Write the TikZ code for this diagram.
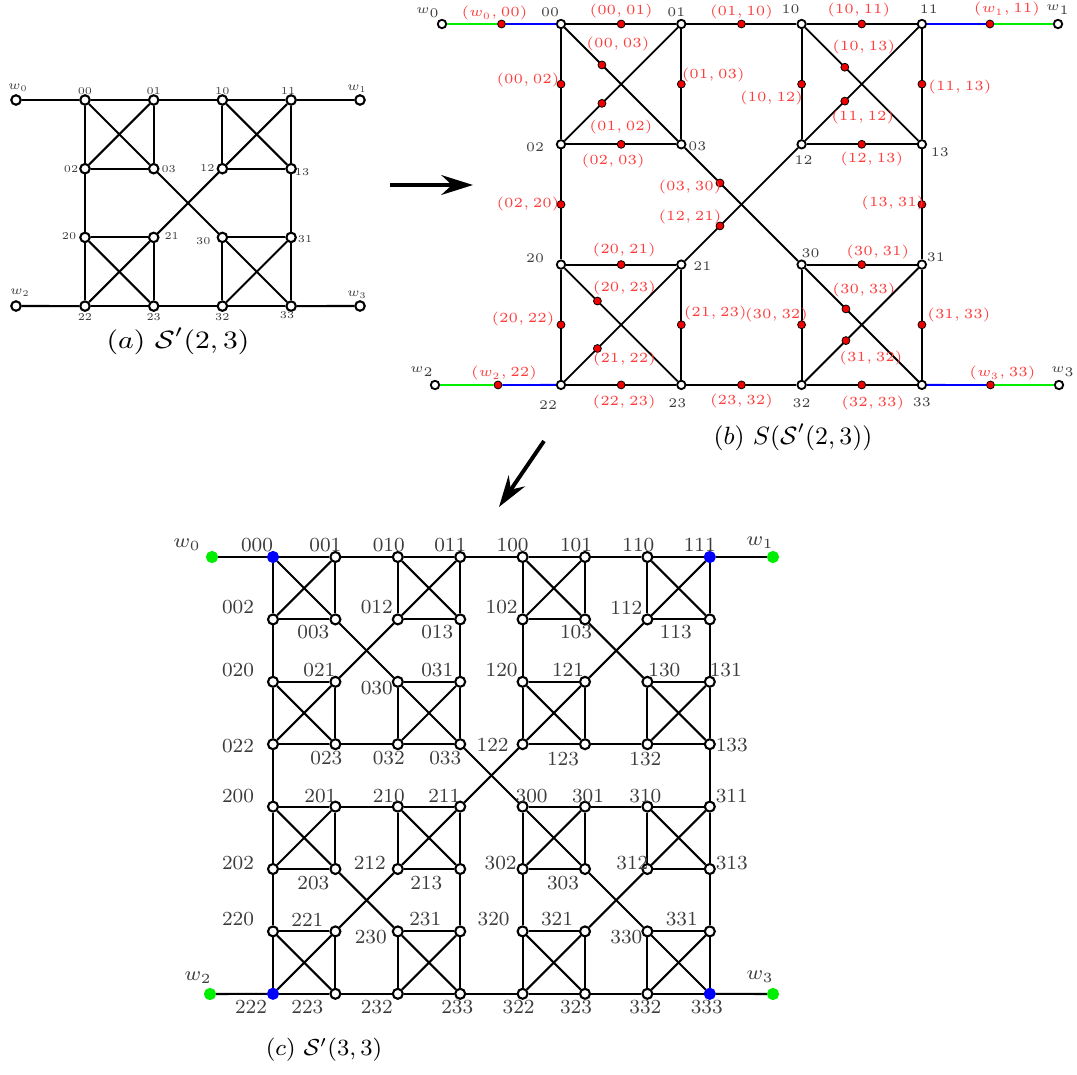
\RequirePackage{fix-cm}
\documentclass[tikz,border=0pt]{standalone}
\usepackage{amsmath,amssymb}
\usepackage{graphicx}
\usepackage{xcolor}
\usepackage{tikz}
\usetikzlibrary{calc,arrows.meta}
\definecolor{vblue}{HTML}{0000FF}
\definecolor{vgreen}{HTML}{00EE00}
\definecolor{dotred}{HTML}{F00000}
\definecolor{lblred}{HTML}{FF3B3B}
\definecolor{lblgray}{HTML}{3C3C3C}
\newcommand{\hstr}[2]{\scalebox{#1}[1]{#2}}
\tikzset{
  vtx/.style={circle,draw=black,fill=white,inner sep=0pt,line width=0.8pt},
  avtx/.style={vtx,minimum size=3.6pt},
  bvtx/.style={vtx,minimum size=3.2pt,line width=0.7pt},
  cvtx/.style={vtx,minimum size=3.8pt},
  endpt/.style={fill=vblue,draw=vblue},
  wpt/.style={fill=vgreen,draw=vgreen},
  rdot/.style={circle,fill=dotred,draw=black,line width=0.3pt,inner sep=0pt,minimum size=3pt},
  aedge/.style={line width=0.8pt},
  bedge/.style={line width=0.7pt},
  cedge/.style={line width=0.8pt},
  alab/.style={inner sep=0pt,text=lblgray,font=\fontsize{4}{5}\selectfont},
  blab/.style={inner sep=0pt,text=lblgray,font=\fontsize{5}{6}\selectfont},
  rlab/.style={inner sep=0pt,text=lblred,font=\fontsize{5.3}{6}\selectfont},
  clab/.style={inner sep=0pt,text=lblgray,font=\fontsize{7.6}{9}\selectfont},
  caption/.style={inner sep=0pt,font=\fontsize{9.5}{11}\selectfont},
  bigarrow/.style={line width=1.5pt,-{Stealth[length=12pt,width=7.5pt,inset=4pt]}}
}

\begin{document}
\begin{tikzpicture}[x=0.38pt,y=-0.38pt]
  \useasboundingbox (0,0) rectangle (1077,1075);

  % (a) S'(2,3)
  \foreach \i in {0,...,3} \foreach \j in {0,...,3} {
    \pgfmathsetmacro\cx{85+68.7*(2*mod(\i,2)+mod(\j,2))}
    \pgfmathsetmacro\cy{100+68.7*(2*int(\i/2)+int(\j/2))}
    \node[avtx] (a\i\j) at (\cx,\cy) {};
  }
  \node[avtx] (aw0) at (16,100) {};
  \node[avtx] (aw1) at (360,100) {};
  \node[avtx] (aw2) at (16,306) {};
  \node[avtx] (aw3) at (360,306) {};
  \foreach \i in {0,...,3}
    \foreach \p/\q in {0/1,0/2,0/3,1/2,1/3,2/3} \draw[aedge] (a\i\p) -- (a\i\q);
  \foreach \p/\q in {0/1,0/2,0/3,1/2,1/3,2/3} \draw[aedge] (a\p\q) -- (a\q\p);
  \foreach \k in {0,...,3} \draw[aedge] (aw\k) -- (a\k\k);
  \foreach \n/\dx/\dy in {00/0/-9,01/0/-9,10/0/-9,11/-3/-9,02/-14/0,03/15/0,12/-15/-1,13/11/3,
      20/-16/-1,21/18/-1,30/-19/4,31/14/2,22/0/11,23/0/11,32/0/11,33/-4/9}
    \node[alab] (la\n) at ($(a\n)+(\dx,\dy)$) {\n};
  \foreach \k/\dx/\dy in {0/2/-12,1/-3/-11,2/4/-13,3/-3/-11}
    \node[alab,font=\fontsize{4.8}{5}\selectfont] (law\k) at ($(aw\k)+(\dx,\dy)$) {$w_\k$};
  \node[caption] (capa) at (178,341) {\hstr{1.15}{$(a)$ $\mathcal{S}'(2,3)$}};

  % (b) S(S'(2,3))
  \foreach \i in {0,...,3} \foreach \j in {0,...,3} {
    \pgfmathsetmacro\cx{561+120.3*(2*mod(\i,2)+mod(\j,2))}
    \pgfmathsetmacro\cy{24+120.3*(2*int(\i/2)+int(\j/2))}
    \node[bvtx] (b\i\j) at (\cx,\cy) {};
  }
  \node[bvtx] (bw0) at (442,24) {};
  \node[bvtx] (bw1) at (1058,24) {};
  \node[bvtx] (bw2) at (435,385) {};
  \node[bvtx] (bw3) at (1059,385) {};
  \foreach \p/\q/\t/\dx/\dy in {00/01/0.5/0/-13,00/03/0.33/16/-21,00/02/0.5/-33/-4,01/03/0.5/32/-9,
      01/02/0.67/19/24,02/03/0.5/-8/17,01/10/0.5/0/-12,02/20/0.5/-33/0,03/30/0.31/-30/4,
      12/21/0.69/-30/-9,10/11/0.5/-3/-14,10/13/0.35/19/-20,10/12/0.5/-30/14,11/13/0.5/38/3,
      11/12/0.65/18/16,12/13/0.5/10/15,13/31/0.5/-29/-1,20/21/0.5/3/-15,20/23/0.29/27/-13,
      20/22/0.5/-38/-6,21/23/0.5/34/-12,21/22/0.71/27/11,22/23/0.5/3/17,23/32/0.5/0/16,
      30/31/0.5/16/-13,30/33/0.36/18/-19,30/32/0.5/-25/-10,31/33/0.5/37/-10,
      31/32/0.64/25/17,32/33/0.5/11/18} {
    \draw[bedge] (b\p) -- node[rdot,pos=\t] (m\p\q) {} (b\q);
    \node[rlab] (lm\p\q) at ($(m\p\q)+(\dx,\dy)$) {$(\p, \q)$};
  }
  \foreach \k/\dx/\dy in {0/-7/-11,1/17/-15,2/6/-12,3/12/-12} {
    \node[rdot] (mw\k) at ($(bw\k)!0.5!(b\k\k)$) {};
    \draw[bedge,vgreen] (bw\k) -- (mw\k);
    \draw[bedge,vblue] (mw\k) -- (b\k\k);
    \node[rlab] (lmw\k) at ($(mw\k)+(\dx,\dy)$) {$(w_\k, \k\k)$};
  }
  \foreach \n/\dx/\dy in {00/-11/-12,01/-5/-12,10/-11/-15,11/7/-15,02/-26/3,03/16/2,12/2/16,13/18/8,
      20/-26/-6,21/21/2,30/9/-11,31/14/-7,22/-13/20,23/-4/18,32/0/18,33/0/17}
    \node[blab] (lb\n) at ($(b\n)+(\dx,\dy)$) {\n};
  \foreach \k/\dx/\dy in {0/-14/-11,1/0/-14,2/-13/-13,3/4/-13}
    \node[blab] (lbw\k) at ($(bw\k)+(\dx,\dy)$) {$w_\k$};
  \node[caption] (capb) at (793,437) {$(b)$ $S(\mathcal{S}'(2,3))$};

  % arrows between the parts
  \coordinate (ar1s) at (390,185);
  \coordinate (ar1e) at (473,185);
  \coordinate (ar2s) at (544,441);
  \coordinate (ar2e) at (499,507);
  \draw[bigarrow] (ar1s) -- (ar1e);
  \draw[bigarrow] (ar2s) -- (ar2e);

  % (c) S'(3,3)
  \foreach \i in {0,...,3} \foreach \j in {0,...,3} \foreach \k in {0,...,3} {
    \pgfmathsetmacro\cx{273+62.4*(4*mod(\i,2)+2*mod(\j,2)+mod(\k,2))}
    \pgfmathsetmacro\cy{557+62.4*(4*int(\i/2)+2*int(\j/2)+int(\k/2))}
    \pgfmathtruncatemacro\ext{equal(\i,\j)*equal(\j,\k)}
    \ifnum\ext=1 \node[cvtx,endpt] (c\i\j\k) at (\cx,\cy) {};
    \else \node[cvtx] (c\i\j\k) at (\cx,\cy) {};
    \fi
  }
  \node[cvtx,wpt] (cw0) at (212,557) {};
  \node[cvtx,wpt] (cw1) at (773,557) {};
  \node[cvtx,wpt] (cw2) at (210,994) {};
  \node[cvtx,wpt] (cw3) at (773,994) {};
  \foreach \i in {0,...,3} \foreach \j in {0,...,3}
    \foreach \p/\q in {0/1,0/2,0/3,1/2,1/3,2/3} \draw[cedge] (c\i\j\p) -- (c\i\j\q);
  \foreach \i in {0,...,3}
    \foreach \p/\q in {0/1,0/2,0/3,1/2,1/3,2/3} \draw[cedge] (c\i\p\q) -- (c\i\q\p);
  \foreach \p/\q in {0/1,0/2,0/3,1/2,1/3,2/3} \draw[cedge] (c\p\q\q) -- (c\q\p\p);
  \foreach \k in {0,...,3} \draw[cedge] (cw\k) -- (c\k\k\k);
  \foreach \n/\dx/\dy in {000/-16/-12,001/-10/-12,010/-9/-12,011/-10/-12,100/-10/-12,101/-9/-12,110/-9/-12,111/-10/-12,
      002/-35/-12,003/-22/13,012/-21/-12,013/-23/13,102/-21/-12,103/-9/13,112/-21/-12,113/-34/13,
      020/-35/-12,021/-16/-12,030/-21/6,031/-23/-12,120/-21/-12,121/-17/-12,130/17/-12,131/16/-12,
      022/-35/2,023/-9/14,032/-9/14,033/-15/14,122/-30/1,123/-22/15,132/-2/15,133/22/1,
      200/-35/-11,201/-15/-11,210/-9/-11,211/-16/-11,300/9/-11,301/3/-11,310/-2/-11,311/22/-11,
      202/-35/-6,203/-22/14,212/-28/-6,213/-34/14,302/-22/-6,303/-22/14,312/-15/-6,313/22/-6,
      220/-35/-12,221/-28/-12,230/-27/6,231/-35/-12,320/-29/-12,321/-28/-12,330/-21/6,331/-28/-12,
      222/-22/13,223/-28/13,232/-21/13,233/-3/13,322/-4/13,323/-9/13,332/-2/13,333/-3/13}
    \node[clab] (lc\n) at ($(c\n)+(\dx,\dy)$) {\n};
  \foreach \k/\dx/\dy in {0/-25/-12,1/-13/-14,2/-12/-16,3/-13/-17}
    \node[clab] (lcw\k) at ($(cw\k)+(\dx,\dy)$) {$w_\k$};
  \node[caption,font=\fontsize{8.8}{10}\selectfont] (capc) at (324,1050) {$(c)$ $\mathcal{S}'(3,3)$};
\end{tikzpicture}
\end{document}
